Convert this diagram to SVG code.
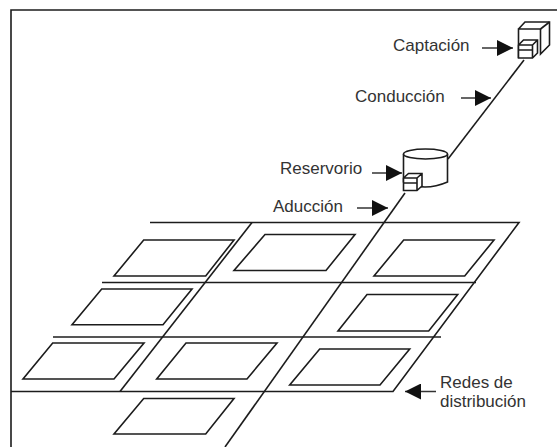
<svg xmlns="http://www.w3.org/2000/svg" width="557" height="447" viewBox="0 0 557 447">
<style>
.l{fill:none;stroke:#1c1c1c;stroke-width:1.6;stroke-linejoin:miter}
.b{fill:#fff;stroke:#1c1c1c;stroke-width:1.6;stroke-linejoin:miter}
.t{font-family:"Liberation Sans",Arial,sans-serif;font-size:17px;fill:#333}
.a{fill:none;stroke:#333;stroke-width:1.5}
</style>
<defs>
<marker id="ah" markerUnits="userSpaceOnUse" markerWidth="16" markerHeight="16" refX="16" refY="8" orient="auto"><path d="M0 0L16 8L0 16Z" fill="#111"/></marker>
</defs>
<rect width="557" height="447" fill="#fff"/>
<g id="frame"><path class="l" d="M11 447V10H557"/></g>
<g id="connectors">
<path class="l" d="M150 222.500H519L393 391.500H11"/>
<path class="l" d="M102 282.500H476"/>
<path class="l" d="M53 337H441"/>
<path class="l" d="M252 222.500L120 391.500"/>
<path class="l" d="M405 193L225 447"/>
<path class="l" d="M448 159L524 60"/>
<path class="a" marker-end="url(#ah)" d="M482 48H513"/>
<path class="a" marker-end="url(#ah)" d="M461 98H491"/>
<path class="a" marker-end="url(#ah)" d="M372 173H402"/>
<path class="a" marker-end="url(#ah)" d="M357 208H388"/>
<path class="a" marker-end="url(#ah)" d="M436 391.500H405"/>
</g>
<g id="blocks">
<path class="l" d="M143.700 240H234L205.700 276H114Z"/>
<path class="l" d="M265 234.500H355L326 270.500H234Z"/>
<path class="l" d="M403.700 240H494L464.700 276H374Z"/>
<path class="l" d="M101.700 289H192L163 324.700H72Z"/>
<path class="l" d="M367 294.500H457.700L428.700 331H338Z"/>
<path class="l" d="M52.700 343H144L114 379H23Z"/>
<path class="l" d="M186 343H277L247 379H156.700Z"/>
<path class="l" d="M319.700 349H409.700L380 385H289.700Z"/>
<path class="l" d="M143.700 398.500H234L205.700 434H114Z"/>
</g>
<g id="captacion">
<path class="b" d="M518.500 29L525 22H549.500V45L540.500 54V29H518.500V58"/>
<path class="l" d="M540.500 29L549.500 22"/>
<path class="b" d="M518.500 45L523.500 40H537.500V53L532.500 58H518.500ZM518.500 45H532.500V58M532.500 45L537.500 40M518.500 50H532.500"/>
<text class="t" x="393" y="50.500">Captación</text>
</g>
<g id="conduccion"><text class="t" x="355" y="101.500">Conducción</text></g>
<g id="reservorio">
<path class="b" d="M403.500 154V182Q414 187 425 187T447.500 182V154"/>
<ellipse class="b" cx="425.500" cy="154" rx="22" ry="5"/>
<path class="b" d="M403.500 178L408.500 173.500H422V186L417 190.500H403.500ZM403.500 178H417V190.500M417 178L422 173.500M403.500 183H417"/>
<text class="t" x="280" y="174">Reservorio</text>
</g>
<g id="aduccion"><text class="t" x="273" y="211.500">Aducción</text></g>
<g id="redes">
<text class="t" x="440" y="388">Redes de</text>
<text class="t" x="440" y="407">distribución</text>
</g>
</svg>
